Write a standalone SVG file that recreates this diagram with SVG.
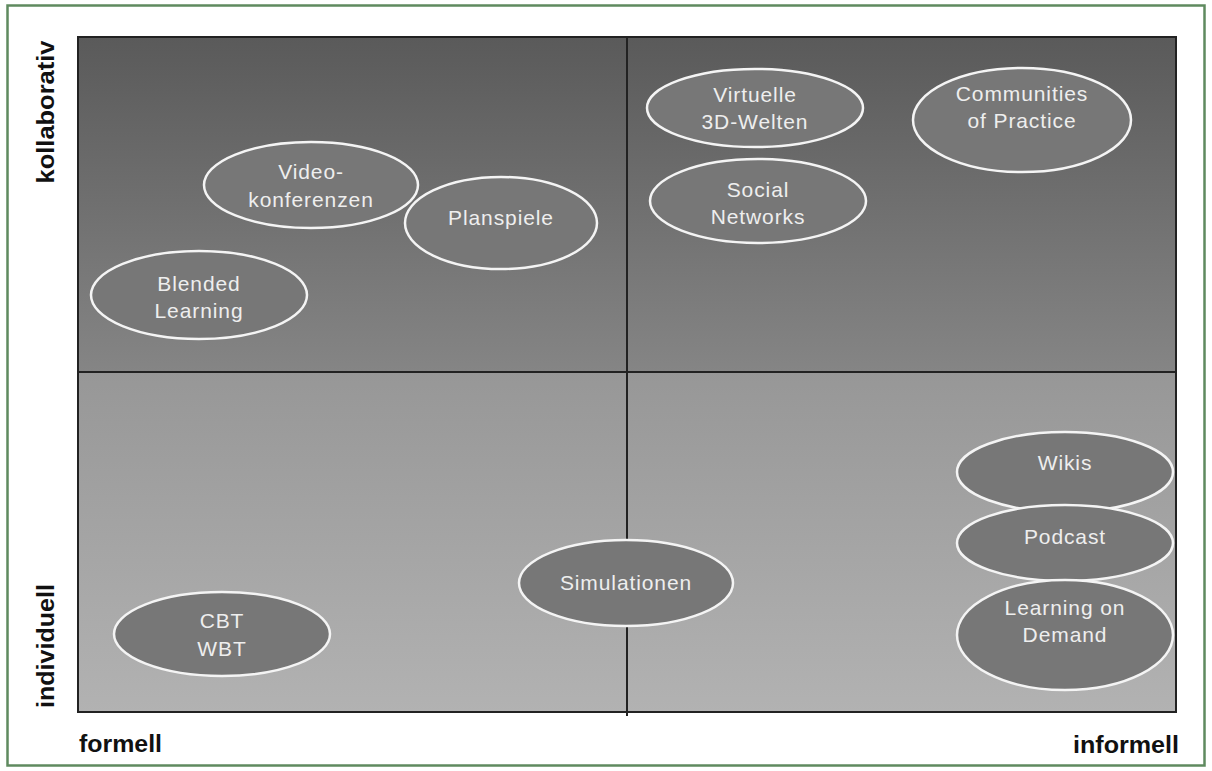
<svg xmlns="http://www.w3.org/2000/svg" width="1212" height="771" viewBox="0 0 1212 771">
<defs>
<linearGradient id="gTop" x1="0" y1="0" x2="0" y2="1">
<stop offset="0" stop-color="#5a5a5a"/>
<stop offset="1" stop-color="#858585"/>
</linearGradient>
<linearGradient id="gBot" x1="0" y1="0" x2="0" y2="1">
<stop offset="0" stop-color="#979797"/>
<stop offset="1" stop-color="#b2b2b2"/>
</linearGradient>
<style>
.n ellipse{fill:#777777;stroke:#f4f4f4;stroke-width:2.5}
.n text{font-family:"Liberation Sans",Arial,sans-serif;font-size:21px;letter-spacing:0.9px;fill:#eeeeee;text-anchor:middle}
.ax{font-family:"Liberation Sans",Arial,sans-serif;font-weight:bold;font-size:23px;fill:#111}
</style>
</defs>
<rect x="0" y="0" width="1212" height="771" fill="#ffffff"/>
<rect x="7.5" y="5.5" width="1197" height="760" fill="none" stroke="#5f8a5f" stroke-width="2.5"/>
<g id="chart">
<rect x="78" y="37" width="1098" height="335" fill="url(#gTop)"/>
<rect x="78" y="372" width="1098" height="340" fill="url(#gBot)"/>
<rect x="78" y="37" width="1098" height="675" fill="none" stroke="#222" stroke-width="2"/>
</g>
<g id="connectors" stroke="#222" stroke-width="2">
<line x1="627" y1="37" x2="627" y2="716"/>
<line x1="78" y1="372" x2="1176" y2="372"/>
</g>
<g id="axis-labels">
<text class="ax" transform="translate(54,112) rotate(-90)" text-anchor="middle" textLength="143" lengthAdjust="spacingAndGlyphs">kollaborativ</text>
<text class="ax" transform="translate(54,646) rotate(-90)" text-anchor="middle" textLength="124" lengthAdjust="spacingAndGlyphs">individuell</text>
<text class="ax" x="79" y="752" textLength="83" lengthAdjust="spacingAndGlyphs">formell</text>
<text class="ax" x="1073" y="753" textLength="106" lengthAdjust="spacingAndGlyphs">informell</text>
</g>
<g id="videokonferenzen" class="n"><ellipse cx="311" cy="185" rx="107" ry="43"/><text x="311" y="179">Video-</text><text x="311" y="207">konferenzen</text></g>
<g id="planspiele" class="n"><ellipse cx="501" cy="223" rx="96" ry="46"/><text x="501" y="225">Planspiele</text></g>
<g id="blended" class="n"><ellipse cx="199" cy="295" rx="108" ry="44"/><text x="199" y="291">Blended</text><text x="199" y="318">Learning</text></g>
<g id="virtuelle" class="n"><ellipse cx="755" cy="108" rx="108" ry="39"/><text x="755" y="102">Virtuelle</text><text x="755" y="129">3D-Welten</text></g>
<g id="social" class="n"><ellipse cx="758" cy="201" rx="108" ry="42"/><text x="758" y="197">Social</text><text x="758" y="224">Networks</text></g>
<g id="communities" class="n"><ellipse cx="1022" cy="120" rx="109" ry="52"/><text x="1022" y="101">Communities</text><text x="1022" y="128">of Practice</text></g>
<g id="wikis" class="n"><ellipse cx="1065" cy="472" rx="108" ry="40"/><text x="1065" y="470">Wikis</text></g>
<g id="podcast" class="n"><ellipse cx="1065" cy="543" rx="108" ry="38"/><text x="1065" y="544">Podcast</text></g>
<g id="learning-on-demand" class="n"><ellipse cx="1065" cy="635" rx="108" ry="55"/><text x="1065" y="615">Learning on</text><text x="1065" y="642">Demand</text></g>
<g id="simulationen" class="n"><ellipse cx="626" cy="583" rx="107" ry="43"/><text x="626" y="590">Simulationen</text></g>
<g id="cbt-wbt" class="n"><ellipse cx="222" cy="634" rx="108" ry="42"/><text x="222" y="628">CBT</text><text x="222" y="656">WBT</text></g>
</svg>
